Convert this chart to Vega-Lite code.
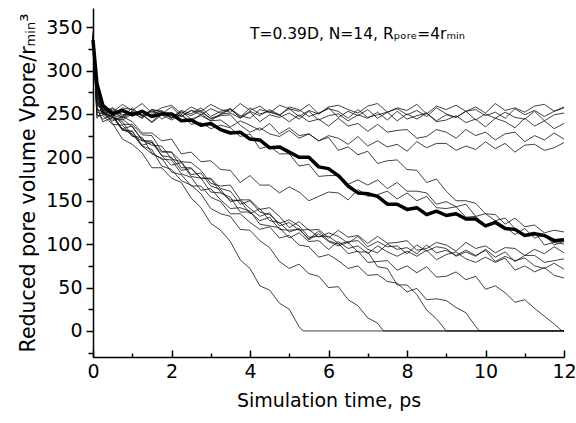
{
"$schema":"https://vega.github.io/schema/vega-lite/v6.json",
"width":471,"height":349,
"autosize":{"type":"none"},
"padding":{"left":93,"top":8,"right":12,"bottom":66},
"background":"white",
"config":{"view":{"stroke":null},"axis":{"domainColor":"#000","tickColor":"#000","labelColor":"#000","titleColor":"#000","labelFont":"DejaVu Sans","titleFont":"DejaVu Sans","labelFontSize":19,"titleFontSize":19,"titleFontWeight":"normal","grid":false,"domainWidth":1.5,"tickWidth":1.5,"labelFlush":false,"labelOverlap":false}},
"datasets":{"lines":[
{"s":"U1","t":0,"v":342},{"s":"U1","t":0.1,"v":280},{"s":"U1","t":0.25,"v":259},{"s":"U1","t":0.5,"v":252},{"s":"U1","t":0.75,"v":261},{"s":"U1","t":1,"v":254},{"s":"U1","t":1.25,"v":262},{"s":"U1","t":1.5,"v":251},{"s":"U1","t":1.75,"v":257},{"s":"U1","t":2,"v":260},{"s":"U1","t":2.25,"v":250},{"s":"U1","t":2.5,"v":258},{"s":"U1","t":2.75,"v":253},{"s":"U1","t":3,"v":261},{"s":"U1","t":3.25,"v":255},{"s":"U1","t":3.5,"v":252},{"s":"U1","t":3.75,"v":262},{"s":"U1","t":4,"v":254},{"s":"U1","t":4.25,"v":259},{"s":"U1","t":4.5,"v":251},{"s":"U1","t":4.75,"v":260},{"s":"U1","t":5,"v":256},{"s":"U1","t":5.25,"v":253},{"s":"U1","t":5.5,"v":261},{"s":"U1","t":5.75,"v":250},{"s":"U1","t":6,"v":258},{"s":"U1","t":6.25,"v":260},{"s":"U1","t":6.5,"v":255},{"s":"U1","t":6.75,"v":251},{"s":"U1","t":7,"v":259},{"s":"U1","t":7.25,"v":262},{"s":"U1","t":7.5,"v":252},{"s":"U1","t":7.75,"v":257},{"s":"U1","t":8,"v":254},{"s":"U1","t":8.25,"v":261},{"s":"U1","t":8.5,"v":250},{"s":"U1","t":8.75,"v":259},{"s":"U1","t":9,"v":255},{"s":"U1","t":9.25,"v":260},{"s":"U1","t":9.5,"v":253},{"s":"U1","t":9.75,"v":258},{"s":"U1","t":10,"v":251},{"s":"U1","t":10.25,"v":262},{"s":"U1","t":10.5,"v":254},{"s":"U1","t":10.75,"v":257},{"s":"U1","t":11,"v":252},{"s":"U1","t":11.25,"v":259},{"s":"U1","t":11.5,"v":261},{"s":"U1","t":11.75,"v":253},{"s":"U1","t":12,"v":258},
{"s":"U2","t":0,"v":338},{"s":"U2","t":0.1,"v":268},{"s":"U2","t":0.25,"v":249},{"s":"U2","t":0.5,"v":256},{"s":"U2","t":0.75,"v":248},{"s":"U2","t":1,"v":252},{"s":"U2","t":1.25,"v":245},{"s":"U2","t":1.5,"v":255},{"s":"U2","t":1.75,"v":253},{"s":"U2","t":2,"v":246},{"s":"U2","t":2.25,"v":254},{"s":"U2","t":2.5,"v":250},{"s":"U2","t":2.75,"v":257},{"s":"U2","t":3,"v":247},{"s":"U2","t":3.25,"v":253},{"s":"U2","t":3.5,"v":256},{"s":"U2","t":3.75,"v":248},{"s":"U2","t":4,"v":245},{"s":"U2","t":4.25,"v":255},{"s":"U2","t":4.5,"v":252},{"s":"U2","t":4.75,"v":249},{"s":"U2","t":5,"v":256},{"s":"U2","t":5.25,"v":247},{"s":"U2","t":5.5,"v":254},{"s":"U2","t":5.75,"v":250},{"s":"U2","t":6,"v":257},{"s":"U2","t":6.25,"v":246},{"s":"U2","t":6.5,"v":253},{"s":"U2","t":6.75,"v":248},{"s":"U2","t":7,"v":255},{"s":"U2","t":7.25,"v":245},{"s":"U2","t":7.5,"v":252},{"s":"U2","t":7.75,"v":256},{"s":"U2","t":8,"v":249},{"s":"U2","t":8.25,"v":254},{"s":"U2","t":8.5,"v":247},{"s":"U2","t":8.75,"v":257},{"s":"U2","t":9,"v":250},{"s":"U2","t":9.25,"v":246},{"s":"U2","t":9.5,"v":253},{"s":"U2","t":9.75,"v":255},{"s":"U2","t":10,"v":248},{"s":"U2","t":10.25,"v":252},{"s":"U2","t":10.5,"v":245},{"s":"U2","t":10.75,"v":256},{"s":"U2","t":11,"v":249},{"s":"U2","t":11.25,"v":254},{"s":"U2","t":11.5,"v":247},{"s":"U2","t":11.75,"v":253},{"s":"U2","t":12,"v":257},
{"s":"U3","t":0,"v":345},{"s":"U3","t":0.1,"v":262},{"s":"U3","t":0.25,"v":252},{"s":"U3","t":0.5,"v":246},{"s":"U3","t":0.75,"v":243},{"s":"U3","t":1,"v":250},{"s":"U3","t":1.25,"v":249},{"s":"U3","t":1.5,"v":241},{"s":"U3","t":1.75,"v":251},{"s":"U3","t":2,"v":245},{"s":"U3","t":2.25,"v":253},{"s":"U3","t":2.5,"v":244},{"s":"U3","t":2.75,"v":248},{"s":"U3","t":3,"v":242},{"s":"U3","t":3.25,"v":250},{"s":"U3","t":3.5,"v":251},{"s":"U3","t":3.75,"v":245},{"s":"U3","t":4,"v":252},{"s":"U3","t":4.25,"v":241},{"s":"U3","t":4.5,"v":249},{"s":"U3","t":4.75,"v":246},{"s":"U3","t":5,"v":251},{"s":"U3","t":5.25,"v":244},{"s":"U3","t":5.5,"v":253},{"s":"U3","t":5.75,"v":243},{"s":"U3","t":6,"v":248},{"s":"U3","t":6.25,"v":250},{"s":"U3","t":6.5,"v":242},{"s":"U3","t":6.75,"v":249},{"s":"U3","t":7,"v":245},{"s":"U3","t":7.25,"v":252},{"s":"U3","t":7.5,"v":243},{"s":"U3","t":7.75,"v":253},{"s":"U3","t":8,"v":244},{"s":"U3","t":8.25,"v":248},{"s":"U3","t":8.5,"v":251},{"s":"U3","t":8.75,"v":242},{"s":"U3","t":9,"v":249},{"s":"U3","t":9.25,"v":246},{"s":"U3","t":9.5,"v":253},{"s":"U3","t":9.75,"v":243},{"s":"U3","t":10,"v":250},{"s":"U3","t":10.25,"v":245},{"s":"U3","t":10.5,"v":252},{"s":"U3","t":10.75,"v":246},{"s":"U3","t":11,"v":244},{"s":"U3","t":11.25,"v":253},{"s":"U3","t":11.5,"v":242},{"s":"U3","t":11.75,"v":249},{"s":"U3","t":12,"v":251},
{"s":"U4","t":0,"v":336},{"s":"U4","t":0.1,"v":275},{"s":"U4","t":0.25,"v":254},{"s":"U4","t":0.5,"v":249},{"s":"U4","t":0.75,"v":257},{"s":"U4","t":1,"v":255},{"s":"U4","t":1.25,"v":248},{"s":"U4","t":1.5,"v":253},{"s":"U4","t":1.75,"v":250},{"s":"U4","t":2,"v":258},{"s":"U4","t":2.25,"v":247},{"s":"U4","t":2.5,"v":254},{"s":"U4","t":2.75,"v":249},{"s":"U4","t":3,"v":256},{"s":"U4","t":3.25,"v":251},{"s":"U4","t":3.5,"v":255},{"s":"U4","t":3.75,"v":246},{"s":"U4","t":4,"v":257},{"s":"U4","t":4.25,"v":250},{"s":"U4","t":4.5,"v":253},{"s":"U4","t":4.75,"v":248},{"s":"U4","t":5,"v":258},{"s":"U4","t":5.25,"v":255},{"s":"U4","t":5.5,"v":247},{"s":"U4","t":5.75,"v":251},{"s":"U4","t":6,"v":256},{"s":"U4","t":6.25,"v":253},{"s":"U4","t":6.5,"v":245},{"s":"U4","t":6.75,"v":255},{"s":"U4","t":7,"v":246},{"s":"U4","t":7.25,"v":249},{"s":"U4","t":7.5,"v":252},{"s":"U4","t":7.75,"v":242},{"s":"U4","t":8,"v":250},{"s":"U4","t":8.25,"v":244},{"s":"U4","t":8.5,"v":251},{"s":"U4","t":8.75,"v":241},{"s":"U4","t":9,"v":243},{"s":"U4","t":9.25,"v":248},{"s":"U4","t":9.5,"v":240},{"s":"U4","t":9.75,"v":244},{"s":"U4","t":10,"v":235},{"s":"U4","t":10.25,"v":245},{"s":"U4","t":10.5,"v":241},{"s":"U4","t":10.75,"v":234},{"s":"U4","t":11,"v":245},{"s":"U4","t":11.25,"v":236},{"s":"U4","t":11.5,"v":242},{"s":"U4","t":11.75,"v":233},{"s":"U4","t":12,"v":239},
{"s":"U5","t":0,"v":340},{"s":"U5","t":0.1,"v":272},{"s":"U5","t":0.25,"v":256},{"s":"U5","t":0.5,"v":252},{"s":"U5","t":0.75,"v":246},{"s":"U5","t":1,"v":253},{"s":"U5","t":1.25,"v":248},{"s":"U5","t":1.5,"v":255},{"s":"U5","t":1.75,"v":244},{"s":"U5","t":2,"v":251},{"s":"U5","t":2.25,"v":247},{"s":"U5","t":2.5,"v":254},{"s":"U5","t":2.75,"v":252},{"s":"U5","t":3,"v":245},{"s":"U5","t":3.25,"v":249},{"s":"U5","t":3.5,"v":256},{"s":"U5","t":3.75,"v":246},{"s":"U5","t":4,"v":253},{"s":"U5","t":4.25,"v":248},{"s":"U5","t":4.5,"v":255},{"s":"U5","t":4.75,"v":249},{"s":"U5","t":5,"v":241},{"s":"U5","t":5.25,"v":249},{"s":"U5","t":5.5,"v":241},{"s":"U5","t":5.75,"v":244},{"s":"U5","t":6,"v":236},{"s":"U5","t":6.25,"v":245},{"s":"U5","t":6.5,"v":236},{"s":"U5","t":6.75,"v":239},{"s":"U5","t":7,"v":230},{"s":"U5","t":7.25,"v":238},{"s":"U5","t":7.5,"v":229},{"s":"U5","t":7.75,"v":231},{"s":"U5","t":8,"v":232},{"s":"U5","t":8.25,"v":222},{"s":"U5","t":8.5,"v":224},{"s":"U5","t":8.75,"v":232},{"s":"U5","t":9,"v":229},{"s":"U5","t":9.25,"v":222},{"s":"U5","t":9.5,"v":232},{"s":"U5","t":9.75,"v":225},{"s":"U5","t":10,"v":229},{"s":"U5","t":10.25,"v":220},{"s":"U5","t":10.5,"v":227},{"s":"U5","t":10.75,"v":229},{"s":"U5","t":11,"v":218},{"s":"U5","t":11.25,"v":225},{"s":"U5","t":11.5,"v":220},{"s":"U5","t":11.75,"v":228},{"s":"U5","t":12,"v":221},
{"s":"U6","t":0,"v":335},{"s":"U6","t":0.1,"v":265},{"s":"U6","t":0.25,"v":256},{"s":"U6","t":0.5,"v":254},{"s":"U6","t":0.75,"v":246},{"s":"U6","t":1,"v":257},{"s":"U6","t":1.25,"v":247},{"s":"U6","t":1.5,"v":249},{"s":"U6","t":1.75,"v":254},{"s":"U6","t":2,"v":246},{"s":"U6","t":2.25,"v":249},{"s":"U6","t":2.5,"v":241},{"s":"U6","t":2.75,"v":250},{"s":"U6","t":3,"v":242},{"s":"U6","t":3.25,"v":243},{"s":"U6","t":3.5,"v":235},{"s":"U6","t":3.75,"v":242},{"s":"U6","t":4,"v":237},{"s":"U6","t":4.25,"v":231},{"s":"U6","t":4.5,"v":239},{"s":"U6","t":4.75,"v":227},{"s":"U6","t":5,"v":234},{"s":"U6","t":5.25,"v":225},{"s":"U6","t":5.5,"v":227},{"s":"U6","t":5.75,"v":219},{"s":"U6","t":6,"v":225},{"s":"U6","t":6.25,"v":222},{"s":"U6","t":6.5,"v":215},{"s":"U6","t":6.75,"v":224},{"s":"U6","t":7,"v":213},{"s":"U6","t":7.25,"v":219},{"s":"U6","t":7.5,"v":212},{"s":"U6","t":7.75,"v":215},{"s":"U6","t":8,"v":207},{"s":"U6","t":8.25,"v":218},{"s":"U6","t":8.5,"v":211},{"s":"U6","t":8.75,"v":216},{"s":"U6","t":9,"v":216},{"s":"U6","t":9.25,"v":208},{"s":"U6","t":9.5,"v":213},{"s":"U6","t":9.75,"v":209},{"s":"U6","t":10,"v":218},{"s":"U6","t":10.25,"v":210},{"s":"U6","t":10.5,"v":216},{"s":"U6","t":10.75,"v":206},{"s":"U6","t":11,"v":214},{"s":"U6","t":11.25,"v":215},{"s":"U6","t":11.5,"v":208},{"s":"U6","t":11.75,"v":211},{"s":"U6","t":12,"v":217},
{"s":"M1","t":0,"v":340},{"s":"M1","t":0.1,"v":270},{"s":"M1","t":0.25,"v":253},{"s":"M1","t":0.5,"v":257},{"s":"M1","t":0.75,"v":249},{"s":"M1","t":1,"v":252},{"s":"M1","t":1.25,"v":245},{"s":"M1","t":1.5,"v":255},{"s":"M1","t":1.75,"v":252},{"s":"M1","t":2,"v":245},{"s":"M1","t":2.25,"v":252},{"s":"M1","t":2.5,"v":248},{"s":"M1","t":2.75,"v":254},{"s":"M1","t":3,"v":244},{"s":"M1","t":3.25,"v":248},{"s":"M1","t":3.5,"v":249},{"s":"M1","t":3.75,"v":237},{"s":"M1","t":4,"v":229},{"s":"M1","t":4.25,"v":234},{"s":"M1","t":4.5,"v":227},{"s":"M1","t":4.75,"v":224},{"s":"M1","t":5,"v":231},{"s":"M1","t":5.25,"v":222},{"s":"M1","t":5.5,"v":227},{"s":"M1","t":5.75,"v":219},{"s":"M1","t":6,"v":223},{"s":"M1","t":6.25,"v":208},{"s":"M1","t":6.5,"v":212},{"s":"M1","t":6.75,"v":203},{"s":"M1","t":7,"v":207},{"s":"M1","t":7.25,"v":193},{"s":"M1","t":7.5,"v":196},{"s":"M1","t":7.75,"v":197},{"s":"M1","t":8,"v":186},{"s":"M1","t":8.25,"v":185},{"s":"M1","t":8.5,"v":171},{"s":"M1","t":8.75,"v":175},{"s":"M1","t":9,"v":161},{"s":"M1","t":9.25,"v":150},{"s":"M1","t":9.5,"v":150},{"s":"M1","t":9.75,"v":147},{"s":"M1","t":10,"v":135},{"s":"M1","t":10.25,"v":134},{"s":"M1","t":10.5,"v":123},{"s":"M1","t":10.75,"v":130},{"s":"M1","t":11,"v":120},{"s":"M1","t":11.25,"v":122},{"s":"M1","t":11.5,"v":113},{"s":"M1","t":11.75,"v":116},{"s":"M1","t":12,"v":114},
{"s":"M2","t":0,"v":338},{"s":"M2","t":0.1,"v":260},{"s":"M2","t":0.25,"v":255},{"s":"M2","t":0.5,"v":249},{"s":"M2","t":0.75,"v":245},{"s":"M2","t":1,"v":251},{"s":"M2","t":1.25,"v":249},{"s":"M2","t":1.5,"v":240},{"s":"M2","t":1.75,"v":249},{"s":"M2","t":2,"v":243},{"s":"M2","t":2.25,"v":249},{"s":"M2","t":2.5,"v":238},{"s":"M2","t":2.75,"v":240},{"s":"M2","t":3,"v":233},{"s":"M2","t":3.25,"v":237},{"s":"M2","t":3.5,"v":234},{"s":"M2","t":3.75,"v":224},{"s":"M2","t":4,"v":227},{"s":"M2","t":4.25,"v":210},{"s":"M2","t":4.5,"v":213},{"s":"M2","t":4.75,"v":204},{"s":"M2","t":5,"v":204},{"s":"M2","t":5.25,"v":190},{"s":"M2","t":5.5,"v":192},{"s":"M2","t":5.75,"v":178},{"s":"M2","t":6,"v":179},{"s":"M2","t":6.25,"v":179},{"s":"M2","t":6.5,"v":169},{"s":"M2","t":6.75,"v":174},{"s":"M2","t":7,"v":168},{"s":"M2","t":7.25,"v":174},{"s":"M2","t":7.5,"v":164},{"s":"M2","t":7.75,"v":171},{"s":"M2","t":8,"v":161},{"s":"M2","t":8.25,"v":161},{"s":"M2","t":8.5,"v":159},{"s":"M2","t":8.75,"v":146},{"s":"M2","t":9,"v":149},{"s":"M2","t":9.25,"v":143},{"s":"M2","t":9.5,"v":146},{"s":"M2","t":9.75,"v":132},{"s":"M2","t":10,"v":135},{"s":"M2","t":10.25,"v":127},{"s":"M2","t":10.5,"v":130},{"s":"M2","t":10.75,"v":118},{"s":"M2","t":11,"v":111},{"s":"M2","t":11.25,"v":114},{"s":"M2","t":11.5,"v":99},{"s":"M2","t":11.75,"v":102},{"s":"M2","t":12,"v":100},
{"s":"L1","t":0,"v":342},{"s":"L1","t":0.1,"v":275},{"s":"L1","t":0.25,"v":250},{"s":"L1","t":0.5,"v":242},{"s":"L1","t":0.75,"v":247},{"s":"L1","t":1,"v":241},{"s":"L1","t":1.25,"v":228},{"s":"L1","t":1.5,"v":228},{"s":"L1","t":1.75,"v":219},{"s":"L1","t":2,"v":221},{"s":"L1","t":2.25,"v":204},{"s":"L1","t":2.5,"v":206},{"s":"L1","t":2.75,"v":195},{"s":"L1","t":3,"v":196},{"s":"L1","t":3.25,"v":186},{"s":"L1","t":3.5,"v":185},{"s":"L1","t":3.75,"v":171},{"s":"L1","t":4,"v":179},{"s":"L1","t":4.25,"v":168},{"s":"L1","t":4.5,"v":168},{"s":"L1","t":4.75,"v":159},{"s":"L1","t":5,"v":166},{"s":"L1","t":5.25,"v":160},{"s":"L1","t":5.5,"v":150},{"s":"L1","t":5.75,"v":155},{"s":"L1","t":6,"v":160},{"s":"L1","t":6.25,"v":159},{"s":"L1","t":6.5,"v":151},{"s":"L1","t":6.75,"v":163},{"s":"L1","t":7,"v":155},{"s":"L1","t":7.25,"v":157},{"s":"L1","t":7.5,"v":161},{"s":"L1","t":7.75,"v":152},{"s":"L1","t":8,"v":159},{"s":"L1","t":8.25,"v":150},{"s":"L1","t":8.5,"v":155},{"s":"L1","t":8.75,"v":142},{"s":"L1","t":9,"v":141},{"s":"L1","t":9.25,"v":143},{"s":"L1","t":9.5,"v":131},{"s":"L1","t":9.75,"v":132},{"s":"L1","t":10,"v":120},{"s":"L1","t":10.25,"v":127},{"s":"L1","t":10.5,"v":120},{"s":"L1","t":10.75,"v":111},{"s":"L1","t":11,"v":118},{"s":"L1","t":11.25,"v":107},{"s":"L1","t":11.5,"v":111},{"s":"L1","t":11.75,"v":99},{"s":"L1","t":12,"v":103},
{"s":"G1","t":0,"v":340},{"s":"G1","t":0.1,"v":262},{"s":"G1","t":0.25,"v":256},{"s":"G1","t":0.5,"v":250},{"s":"G1","t":0.75,"v":238},{"s":"G1","t":1,"v":238},{"s":"G1","t":1.25,"v":226},{"s":"G1","t":1.5,"v":225},{"s":"G1","t":1.75,"v":207},{"s":"G1","t":2,"v":206},{"s":"G1","t":2.25,"v":195},{"s":"G1","t":2.5,"v":194},{"s":"G1","t":2.75,"v":185},{"s":"G1","t":3,"v":170},{"s":"G1","t":3.25,"v":167},{"s":"G1","t":3.5,"v":168},{"s":"G1","t":3.75,"v":151},{"s":"G1","t":4,"v":151},{"s":"G1","t":4.25,"v":140},{"s":"G1","t":4.5,"v":142},{"s":"G1","t":4.75,"v":132},{"s":"G1","t":5,"v":119},{"s":"G1","t":5.25,"v":126},{"s":"G1","t":5.5,"v":116},{"s":"G1","t":5.75,"v":117},{"s":"G1","t":6,"v":107},{"s":"G1","t":6.25,"v":116},{"s":"G1","t":6.5,"v":108},{"s":"G1","t":6.75,"v":110},{"s":"G1","t":7,"v":101},{"s":"G1","t":7.25,"v":109},{"s":"G1","t":7.5,"v":101},{"s":"G1","t":7.75,"v":102},{"s":"G1","t":8,"v":104},{"s":"G1","t":8.25,"v":93},{"s":"G1","t":8.5,"v":95},{"s":"G1","t":8.75,"v":102},{"s":"G1","t":9,"v":99},{"s":"G1","t":9.25,"v":92},{"s":"G1","t":9.5,"v":102},{"s":"G1","t":9.75,"v":95},{"s":"G1","t":10,"v":98},{"s":"G1","t":10.25,"v":90},{"s":"G1","t":10.5,"v":96},{"s":"G1","t":10.75,"v":95},{"s":"G1","t":11,"v":87},{"s":"G1","t":11.25,"v":94},{"s":"G1","t":11.5,"v":89},{"s":"G1","t":11.75,"v":97},{"s":"G1","t":12,"v":90},
{"s":"G2","t":0,"v":336},{"s":"G2","t":0.1,"v":255},{"s":"G2","t":0.25,"v":252},{"s":"G2","t":0.5,"v":247},{"s":"G2","t":0.75,"v":233},{"s":"G2","t":1,"v":236},{"s":"G2","t":1.25,"v":220},{"s":"G2","t":1.5,"v":214},{"s":"G2","t":1.75,"v":213},{"s":"G2","t":2,"v":198},{"s":"G2","t":2.25,"v":195},{"s":"G2","t":2.5,"v":180},{"s":"G2","t":2.75,"v":182},{"s":"G2","t":3,"v":167},{"s":"G2","t":3.25,"v":163},{"s":"G2","t":3.5,"v":149},{"s":"G2","t":3.75,"v":151},{"s":"G2","t":4,"v":141},{"s":"G2","t":4.25,"v":132},{"s":"G2","t":4.5,"v":136},{"s":"G2","t":4.75,"v":121},{"s":"G2","t":5,"v":125},{"s":"G2","t":5.25,"v":116},{"s":"G2","t":5.5,"v":117},{"s":"G2","t":5.75,"v":108},{"s":"G2","t":6,"v":113},{"s":"G2","t":6.25,"v":109},{"s":"G2","t":6.5,"v":101},{"s":"G2","t":6.75,"v":109},{"s":"G2","t":7,"v":97},{"s":"G2","t":7.25,"v":103},{"s":"G2","t":7.5,"v":97},{"s":"G2","t":7.75,"v":98},{"s":"G2","t":8,"v":89},{"s":"G2","t":8.25,"v":99},{"s":"G2","t":8.5,"v":92},{"s":"G2","t":8.75,"v":97},{"s":"G2","t":9,"v":95},{"s":"G2","t":9.25,"v":86},{"s":"G2","t":9.5,"v":91},{"s":"G2","t":9.75,"v":86},{"s":"G2","t":10,"v":94},{"s":"G2","t":10.25,"v":85},{"s":"G2","t":10.5,"v":91},{"s":"G2","t":10.75,"v":80},{"s":"G2","t":11,"v":87},{"s":"G2","t":11.25,"v":87},{"s":"G2","t":11.5,"v":79},{"s":"G2","t":11.75,"v":81},{"s":"G2","t":12,"v":83},
{"s":"G3","t":0,"v":343},{"s":"G3","t":0.1,"v":250},{"s":"G3","t":0.25,"v":244},{"s":"G3","t":0.5,"v":249},{"s":"G3","t":0.75,"v":232},{"s":"G3","t":1,"v":230},{"s":"G3","t":1.25,"v":214},{"s":"G3","t":1.5,"v":217},{"s":"G3","t":1.75,"v":202},{"s":"G3","t":2,"v":191},{"s":"G3","t":2.25,"v":194},{"s":"G3","t":2.5,"v":178},{"s":"G3","t":2.75,"v":176},{"s":"G3","t":3,"v":160},{"s":"G3","t":3.25,"v":159},{"s":"G3","t":3.5,"v":154},{"s":"G3","t":3.75,"v":137},{"s":"G3","t":4,"v":137},{"s":"G3","t":4.25,"v":127},{"s":"G3","t":4.5,"v":131},{"s":"G3","t":4.75,"v":117},{"s":"G3","t":5,"v":116},{"s":"G3","t":5.25,"v":117},{"s":"G3","t":5.5,"v":106},{"s":"G3","t":5.75,"v":115},{"s":"G3","t":6,"v":104},{"s":"G3","t":6.25,"v":100},{"s":"G3","t":6.5,"v":103},{"s":"G3","t":6.75,"v":104},{"s":"G3","t":7,"v":94},{"s":"G3","t":7.25,"v":90},{"s":"G3","t":7.5,"v":100},{"s":"G3","t":7.75,"v":94},{"s":"G3","t":8,"v":96},{"s":"G3","t":8.25,"v":89},{"s":"G3","t":8.5,"v":99},{"s":"G3","t":8.75,"v":90},{"s":"G3","t":9,"v":93},{"s":"G3","t":9.25,"v":87},{"s":"G3","t":9.5,"v":93},{"s":"G3","t":9.75,"v":87},{"s":"G3","t":10,"v":93},{"s":"G3","t":10.25,"v":80},{"s":"G3","t":10.5,"v":86},{"s":"G3","t":10.75,"v":81},{"s":"G3","t":11,"v":84},{"s":"G3","t":11.25,"v":75},{"s":"G3","t":11.5,"v":72},{"s":"G3","t":11.75,"v":78},{"s":"G3","t":12,"v":71},
{"s":"G4","t":0,"v":339},{"s":"G4","t":0.1,"v":248},{"s":"G4","t":0.25,"v":248},{"s":"G4","t":0.5,"v":238},{"s":"G4","t":0.75,"v":237},{"s":"G4","t":1,"v":224},{"s":"G4","t":1.25,"v":223},{"s":"G4","t":1.5,"v":205},{"s":"G4","t":1.75,"v":198},{"s":"G4","t":2,"v":197},{"s":"G4","t":2.25,"v":181},{"s":"G4","t":2.5,"v":177},{"s":"G4","t":2.75,"v":162},{"s":"G4","t":3,"v":164},{"s":"G4","t":3.25,"v":151},{"s":"G4","t":3.5,"v":141},{"s":"G4","t":3.75,"v":142},{"s":"G4","t":4,"v":138},{"s":"G4","t":4.25,"v":123},{"s":"G4","t":4.5,"v":121},{"s":"G4","t":4.75,"v":119},{"s":"G4","t":5,"v":107},{"s":"G4","t":5.25,"v":113},{"s":"G4","t":5.5,"v":103},{"s":"G4","t":5.75,"v":104},{"s":"G4","t":6,"v":94},{"s":"G4","t":6.25,"v":103},{"s":"G4","t":6.5,"v":95},{"s":"G4","t":6.75,"v":98},{"s":"G4","t":7,"v":89},{"s":"G4","t":7.25,"v":98},{"s":"G4","t":7.5,"v":91},{"s":"G4","t":7.75,"v":86},{"s":"G4","t":8,"v":92},{"s":"G4","t":8.25,"v":86},{"s":"G4","t":8.5,"v":93},{"s":"G4","t":8.75,"v":82},{"s":"G4","t":9,"v":88},{"s":"G4","t":9.25,"v":91},{"s":"G4","t":9.5,"v":83},{"s":"G4","t":9.75,"v":79},{"s":"G4","t":10,"v":85},{"s":"G4","t":10.25,"v":79},{"s":"G4","t":10.5,"v":84},{"s":"G4","t":10.75,"v":70},{"s":"G4","t":11,"v":75},{"s":"G4","t":11.25,"v":68},{"s":"G4","t":11.5,"v":73},{"s":"G4","t":11.75,"v":64},{"s":"G4","t":12,"v":61},
{"s":"C","t":0,"v":341},{"s":"C","t":0.1,"v":258},{"s":"C","t":0.25,"v":241},{"s":"C","t":0.5,"v":246},{"s":"C","t":0.75,"v":241},{"s":"C","t":1,"v":225},{"s":"C","t":1.25,"v":219},{"s":"C","t":1.5,"v":219},{"s":"C","t":1.75,"v":202},{"s":"C","t":2,"v":200},{"s":"C","t":2.25,"v":185},{"s":"C","t":2.5,"v":187},{"s":"C","t":2.75,"v":176},{"s":"C","t":3,"v":175},{"s":"C","t":3.25,"v":160},{"s":"C","t":3.5,"v":151},{"s":"C","t":3.75,"v":150},{"s":"C","t":4,"v":135},{"s":"C","t":4.25,"v":141},{"s":"C","t":4.5,"v":127},{"s":"C","t":4.75,"v":125},{"s":"C","t":5,"v":114},{"s":"C","t":5.25,"v":118},{"s":"C","t":5.5,"v":105},{"s":"C","t":5.75,"v":112},{"s":"C","t":6,"v":103},{"s":"C","t":6.25,"v":98},{"s":"C","t":6.5,"v":102},{"s":"C","t":6.75,"v":91},{"s":"C","t":7,"v":91},{"s":"C","t":7.25,"v":74},{"s":"C","t":7.5,"v":72},{"s":"C","t":7.75,"v":53},{"s":"C","t":8,"v":53},{"s":"C","t":8.25,"v":42},{"s":"C","t":8.5,"v":24},{"s":"C","t":8.75,"v":14},{"s":"C","t":9,"v":0},{"s":"C","t":12,"v":0},
{"s":"D","t":0,"v":337},{"s":"D","t":0.1,"v":252},{"s":"D","t":0.25,"v":250},{"s":"D","t":0.5,"v":247},{"s":"D","t":0.75,"v":231},{"s":"D","t":1,"v":230},{"s":"D","t":1.25,"v":213},{"s":"D","t":1.5,"v":204},{"s":"D","t":1.75,"v":199},{"s":"D","t":2,"v":183},{"s":"D","t":2.25,"v":180},{"s":"D","t":2.5,"v":167},{"s":"D","t":2.75,"v":167},{"s":"D","t":3,"v":154},{"s":"D","t":3.25,"v":149},{"s":"D","t":3.5,"v":135},{"s":"D","t":3.75,"v":135},{"s":"D","t":4,"v":125},{"s":"D","t":4.25,"v":117},{"s":"D","t":4.5,"v":120},{"s":"D","t":4.75,"v":107},{"s":"D","t":5,"v":110},{"s":"D","t":5.25,"v":99},{"s":"D","t":5.5,"v":97},{"s":"D","t":5.75,"v":85},{"s":"D","t":6,"v":88},{"s":"D","t":6.25,"v":81},{"s":"D","t":6.5,"v":72},{"s":"D","t":6.75,"v":75},{"s":"D","t":7,"v":64},{"s":"D","t":7.25,"v":65},{"s":"D","t":7.5,"v":57},{"s":"D","t":7.75,"v":55},{"s":"D","t":8,"v":45},{"s":"D","t":8.25,"v":49},{"s":"D","t":8.5,"v":36},{"s":"D","t":8.75,"v":37},{"s":"D","t":9,"v":35},{"s":"D","t":9.25,"v":27},{"s":"D","t":9.5,"v":21},{"s":"D","t":9.75,"v":5},{"s":"D","t":9.85,"v":0},{"s":"D","t":12,"v":0},
{"s":"E","t":0,"v":339},{"s":"E","t":0.1,"v":265},{"s":"E","t":0.25,"v":251},{"s":"E","t":0.5,"v":244},{"s":"E","t":0.75,"v":244},{"s":"E","t":1,"v":235},{"s":"E","t":1.25,"v":220},{"s":"E","t":1.5,"v":217},{"s":"E","t":1.75,"v":206},{"s":"E","t":2,"v":206},{"s":"E","t":2.25,"v":188},{"s":"E","t":2.5,"v":188},{"s":"E","t":2.75,"v":176},{"s":"E","t":3,"v":176},{"s":"E","t":3.25,"v":164},{"s":"E","t":3.5,"v":161},{"s":"E","t":3.75,"v":146},{"s":"E","t":4,"v":150},{"s":"E","t":4.25,"v":137},{"s":"E","t":4.5,"v":134},{"s":"E","t":4.75,"v":124},{"s":"E","t":5,"v":128},{"s":"E","t":5.25,"v":121},{"s":"E","t":5.5,"v":108},{"s":"E","t":5.75,"v":109},{"s":"E","t":6,"v":109},{"s":"E","t":6.25,"v":101},{"s":"E","t":6.5,"v":89},{"s":"E","t":6.75,"v":92},{"s":"E","t":7,"v":79},{"s":"E","t":7.25,"v":80},{"s":"E","t":7.5,"v":81},{"s":"E","t":7.75,"v":70},{"s":"E","t":8,"v":75},{"s":"E","t":8.25,"v":67},{"s":"E","t":8.5,"v":74},{"s":"E","t":8.75,"v":62},{"s":"E","t":9,"v":63},{"s":"E","t":9.25,"v":68},{"s":"E","t":9.5,"v":59},{"s":"E","t":9.75,"v":63},{"s":"E","t":10,"v":48},{"s":"E","t":10.25,"v":52},{"s":"E","t":10.5,"v":44},{"s":"E","t":10.75,"v":33},{"s":"E","t":11,"v":36},{"s":"E","t":11.25,"v":26},{"s":"E","t":11.5,"v":17},{"s":"E","t":11.75,"v":8},{"s":"E","t":11.95,"v":0},{"s":"E","t":12,"v":0},
{"s":"B","t":0,"v":340},{"s":"B","t":0.1,"v":255},{"s":"B","t":0.25,"v":253},{"s":"B","t":0.5,"v":247},{"s":"B","t":0.75,"v":232},{"s":"B","t":1,"v":227},{"s":"B","t":1.25,"v":213},{"s":"B","t":1.5,"v":209},{"s":"B","t":1.75,"v":190},{"s":"B","t":2,"v":186},{"s":"B","t":2.25,"v":173},{"s":"B","t":2.5,"v":168},{"s":"B","t":2.75,"v":158},{"s":"B","t":3,"v":141},{"s":"B","t":3.25,"v":135},{"s":"B","t":3.5,"v":132},{"s":"B","t":3.75,"v":117},{"s":"B","t":4,"v":116},{"s":"B","t":4.25,"v":104},{"s":"B","t":4.5,"v":96},{"s":"B","t":4.75,"v":80},{"s":"B","t":5,"v":72},{"s":"B","t":5.25,"v":77},{"s":"B","t":5.5,"v":66},{"s":"B","t":5.75,"v":63},{"s":"B","t":6,"v":50},{"s":"B","t":6.25,"v":51},{"s":"B","t":6.5,"v":36},{"s":"B","t":6.75,"v":29},{"s":"B","t":7,"v":15},{"s":"B","t":7.25,"v":9},{"s":"B","t":7.4,"v":0},{"s":"B","t":12,"v":0},
{"s":"A","t":0,"v":338},{"s":"A","t":0.1,"v":245},{"s":"A","t":0.25,"v":254},{"s":"A","t":0.5,"v":239},{"s":"A","t":0.75,"v":221},{"s":"A","t":1,"v":215},{"s":"A","t":1.25,"v":205},{"s":"A","t":1.5,"v":188},{"s":"A","t":1.75,"v":188},{"s":"A","t":2,"v":176},{"s":"A","t":2.25,"v":171},{"s":"A","t":2.5,"v":153},{"s":"A","t":2.75,"v":142},{"s":"A","t":3,"v":124},{"s":"A","t":3.25,"v":116},{"s":"A","t":3.5,"v":103},{"s":"A","t":3.75,"v":82},{"s":"A","t":4,"v":72},{"s":"A","t":4.25,"v":52},{"s":"A","t":4.5,"v":47},{"s":"A","t":4.75,"v":32},{"s":"A","t":5,"v":25},{"s":"A","t":5.25,"v":5},{"s":"A","t":5.35,"v":0},{"s":"A","t":12,"v":0},
{"s":"T","t":0,"v":335},{"s":"T","t":0.1,"v":285},{"s":"T","t":0.25,"v":260},{"s":"T","t":0.5,"v":250},{"s":"T","t":0.75,"v":254},{"s":"T","t":1,"v":249},{"s":"T","t":1.25,"v":253},{"s":"T","t":1.5,"v":247},{"s":"T","t":1.75,"v":250},{"s":"T","t":2,"v":250},{"s":"T","t":2.25,"v":242},{"s":"T","t":2.5,"v":243},{"s":"T","t":2.75,"v":237},{"s":"T","t":3,"v":239},{"s":"T","t":3.25,"v":232},{"s":"T","t":3.5,"v":228},{"s":"T","t":3.75,"v":229},{"s":"T","t":4,"v":221},{"s":"T","t":4.25,"v":220},{"s":"T","t":4.5,"v":211},{"s":"T","t":4.75,"v":212},{"s":"T","t":5,"v":206},{"s":"T","t":5.25,"v":200},{"s":"T","t":5.5,"v":200},{"s":"T","t":5.75,"v":189},{"s":"T","t":6,"v":187},{"s":"T","t":6.25,"v":179},{"s":"T","t":6.5,"v":167},{"s":"T","t":6.75,"v":159},{"s":"T","t":7,"v":158},{"s":"T","t":7.25,"v":155},{"s":"T","t":7.5,"v":146},{"s":"T","t":7.75,"v":146},{"s":"T","t":8,"v":140},{"s":"T","t":8.25,"v":142},{"s":"T","t":8.5,"v":134},{"s":"T","t":8.75,"v":138},{"s":"T","t":9,"v":133},{"s":"T","t":9.25,"v":135},{"s":"T","t":9.5,"v":129},{"s":"T","t":9.75,"v":129},{"s":"T","t":10,"v":121},{"s":"T","t":10.25,"v":125},{"s":"T","t":10.5,"v":118},{"s":"T","t":10.75,"v":117},{"s":"T","t":11,"v":110},{"s":"T","t":11.25,"v":112},{"s":"T","t":11.5,"v":110},{"s":"T","t":11.75,"v":104},{"s":"T","t":12,"v":105}
]},
"layer":[
{"data":{"name":"lines"},"transform":[{"filter":"datum.s !== 'T'"}],
"mark":{"type":"line","stroke":"#111","strokeWidth":0.8,"strokeJoin":"round"},
"encoding":{
"x":{"field":"t","type":"quantitative","scale":{"domain":[0,12],"nice":false,"zero":false},"axis":{"values":[0,2,4,6,8,10,12],"tickSize":-7,"labelPadding":12,"title":"Simulation time, ps","titlePadding":10}},
"y":{"field":"v","type":"quantitative","scale":{"domain":[-30,372],"nice":false,"zero":false},"axis":{"values":[0,50,100,150,200,250,300,350],"tickSize":7,"labelPadding":4,"title":"Reduced pore volume Vpore/rₘᵢₙ³","titleFontSize":20.5,"titlePadding":7}},
"detail":{"field":"s"}}},
{"data":{"name":"lines"},"transform":[{"filter":"datum.s === 'T'"}],
"mark":{"type":"line","stroke":"#000","strokeWidth":3.5,"strokeJoin":"round"},
"encoding":{
"x":{"field":"t","type":"quantitative","scale":{"domain":[0,12],"nice":false,"zero":false},"axis":{"orient":"bottom","values":[1,3,5,7,9,11],"tickSize":-4,"labels":false,"domain":false,"title":null}},
"y":{"field":"v","type":"quantitative","scale":{"domain":[-30,372],"nice":false,"zero":false},"axis":{"orient":"left","values":[-25,25,75,125,175,225,275,325],"tickSize":5,"labels":false,"domain":false,"title":null}}}},
{"data":{"values":[{"t":4.0,"v":336,"label":"T=0.39D, N=14, Rₚₒᵣₑ=4rₘᵢₙ"}]},
"mark":{"type":"text","align":"left","baseline":"alphabetic","font":"DejaVu Sans","fontSize":15.5,"color":"#000"},
"encoding":{
"x":{"field":"t","type":"quantitative","scale":{"domain":[0,12],"nice":false,"zero":false},"axis":null},
"y":{"field":"v","type":"quantitative","scale":{"domain":[-30,372],"nice":false,"zero":false},"axis":null},
"text":{"field":"label"}}}
],
"resolve":{"axis":{"x":"independent","y":"independent"}}
}
